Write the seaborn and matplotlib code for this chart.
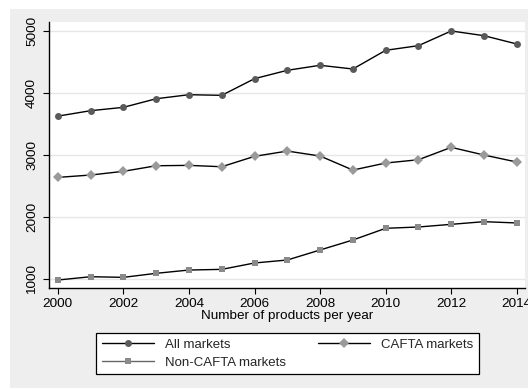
import matplotlib
matplotlib.use("Agg")
import matplotlib.pyplot as plt
from matplotlib.patches import Rectangle
import seaborn as sns
import pandas as pd

years = list(range(2000, 2015))
all_markets = [3625, 3713, 3767, 3906, 3971, 3961, 4230, 4365, 4446, 4386,
               4688, 4763, 5000, 4924, 4790]
cafta_markets = [2636, 2674, 2734, 2824, 2830, 2808, 2976, 3061, 2981, 2754,
                 2868, 2921, 3121, 2997, 2884]
non_cafta_markets = [979, 1032, 1022, 1087, 1140, 1151, 1254, 1302, 1464, 1625,
                     1814, 1835, 1878, 1921, 1900]

x_ticks = [2000, 2002, 2004, 2006, 2008, 2010, 2012, 2014]
y_ticks = [1000, 2000, 3000, 4000, 5000]
x_label = "Number of products per year"

sns.set_theme(style="white")
plt.rcParams["font.family"] = ["Liberation Sans", "DejaVu Sans"]

W, H = 528, 389
fig = plt.figure(figsize=(W / 100, H / 100), dpi=100, facecolor="white")
# Stata-style light gray graph region
fig.patches.append(Rectangle((10 / W, 1 / H), 1 - 10 / W, (H - 10) / H,
                             transform=fig.transFigure, facecolor="#eeeeee",
                             edgecolor="none", zorder=-10))

ax = fig.add_axes([49.3 / W, (H - 288) / H, (525 - 49.3) / W, (288 - 22) / H])
ax.set_facecolor("white")

df = pd.DataFrame({"year": years, "all": all_markets,
                   "cafta": cafta_markets, "non": non_cafta_markets})

series = [
    ("all", "All markets", "o", "#5a5a5a", 5.0, "black"),
    ("non", "Non-CAFTA markets", "s", "#8a8a8a", 5.0, "#666666"),
    ("cafta", "CAFTA markets", "D", "#9a9a9a", 5.0, "black"),
]
handles = []
for col, label, marker, mcolor, msize, lcolor in series:
    sns.lineplot(data=df, x="year", y=col, ax=ax, color="black", linewidth=1.0,
                 marker=marker, markersize=msize, markerfacecolor=mcolor,
                 markeredgecolor=mcolor, markeredgewidth=0, label=label,
                 legend=False)
    handles.append(plt.Line2D([], [], color=lcolor, linewidth=1.0, marker=marker,
                              markersize=msize, markerfacecolor=mcolor,
                              markeredgecolor=mcolor, markeredgewidth=0,
                              label=label))

ax.set_xlim(1999.74, 2014.25)
ax.set_ylim(850, 5145)
ax.set_xticks(x_ticks)
ax.set_yticks(y_ticks)
ax.set_yticklabels([str(v) for v in y_ticks], rotation=90, va="center")
ax.yaxis.grid(True, color="#e6e6e6", linewidth=1.0)
ax.xaxis.grid(False)
ax.set_axisbelow(True)

for side in ("top", "right"):
    ax.spines[side].set_visible(False)
for side in ("left", "bottom"):
    ax.spines[side].set_color("black")
    ax.spines[side].set_linewidth(1.0)

ax.tick_params(axis="both", which="major", direction="out", length=4.5,
               width=0.8, color="black", labelsize=9.7, labelcolor="black",
               bottom=True, left=True, pad=2.5)
ax.tick_params(axis="y", pad=3.5)
ax.set_xlabel(x_label, fontsize=9.7, color="black", labelpad=0.5)
ax.set_ylabel("")

leg = fig.legend(handles=handles, ncol=2, loc="center",
                 bbox_to_anchor=(287.5 / W, (H - 353.5) / H),
                 fontsize=9.5, frameon=True, fancybox=False, framealpha=1,
                 edgecolor="black", facecolor="white", handlelength=4.0,
                 handletextpad=0.8, columnspacing=2.4, labelspacing=0.42,
                 borderpad=0.45, borderaxespad=0)
leg.get_frame().set_linewidth(0.9)

fig.savefig("out.png", dpi=100, facecolor="white")
